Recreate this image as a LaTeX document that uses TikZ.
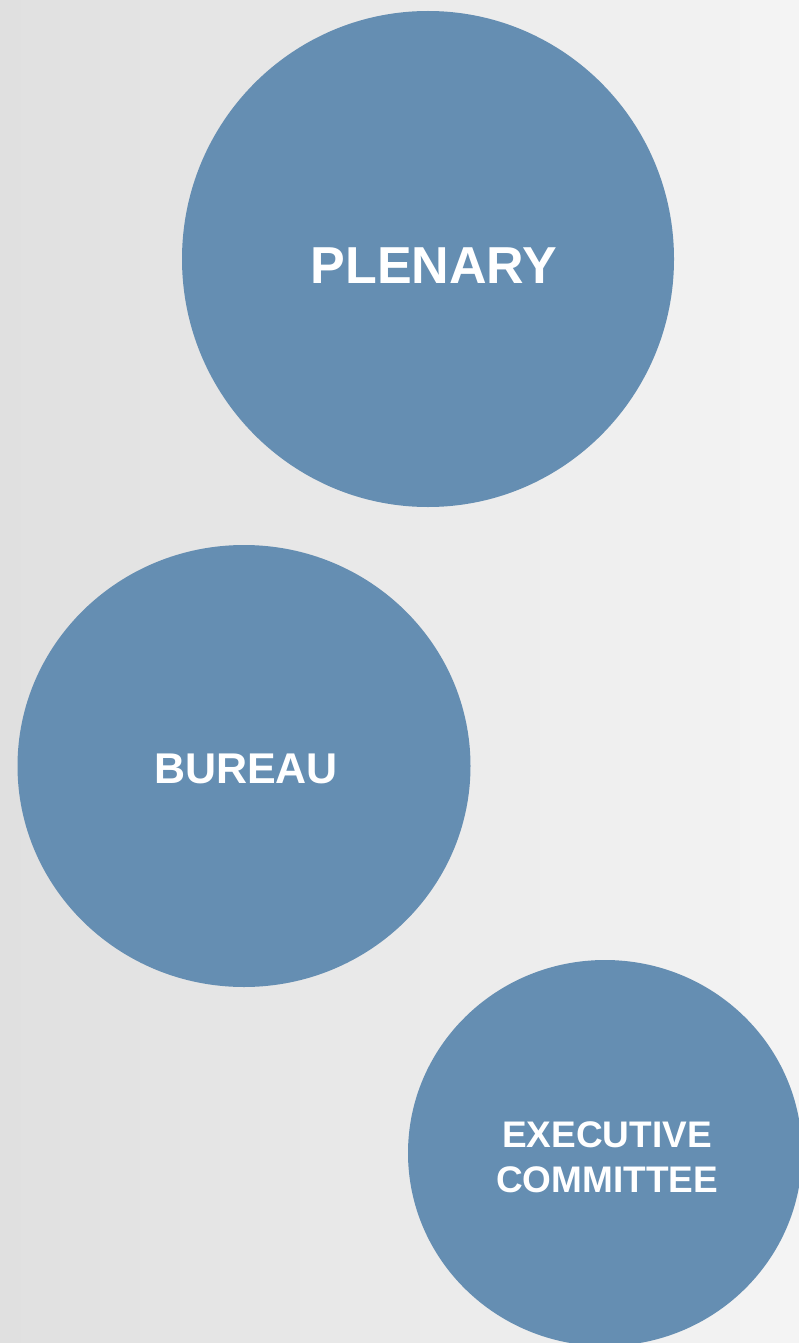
\documentclass[tikz,border=0pt]{standalone}
\usepackage{fontspec}
\setmainfont{Liberation Sans}
\usetikzlibrary{shapes.geometric}
\definecolor{bubble}{HTML}{658EB2}
\definecolor{bgleft}{HTML}{E0E0E0}
\definecolor{bgright}{HTML}{F4F4F4}
\begin{document}
\begin{tikzpicture}[x=1pt,y=-1pt,
  bubblestyle/.style={ellipse, fill=bubble, draw=none, inner sep=0pt},
  labelstyle/.style={text=white, inner sep=0pt, align=center}]
\useasboundingbox (0,0) rectangle (799,1343);
\shade[left color=bgleft, right color=bgright] (0,0) rectangle (799,1343);
\begin{scope}
\clip (0,0) rectangle (799,1343);
\node[bubblestyle, minimum width=492pt, minimum height=496pt] (plenary) at (428,259) {};
\node[bubblestyle, minimum width=453pt, minimum height=442pt] (bureau) at (244,766) {};
\node[bubblestyle, minimum width=394pt, minimum height=386pt] (exec) at (605,1153) {};
\end{scope}
\node[labelstyle, font=\bfseries\fontsize{52}{60}\selectfont, anchor=base] (plenarytext) at (434,283) {PLENARY};
\node[labelstyle, font=\bfseries\fontsize{43}{50}\selectfont, anchor=base] (bureautext) at (246,783) {BUREAU};
\node[labelstyle, font=\bfseries\fontsize{37}{45}\selectfont, anchor=base] (exectext1) at (607,1147) {EXECUTIVE};
\node[labelstyle, font=\bfseries\fontsize{37}{45}\selectfont, anchor=base] (exectext2) at (607,1192) {COMMITTEE};
\end{tikzpicture}
\end{document}
